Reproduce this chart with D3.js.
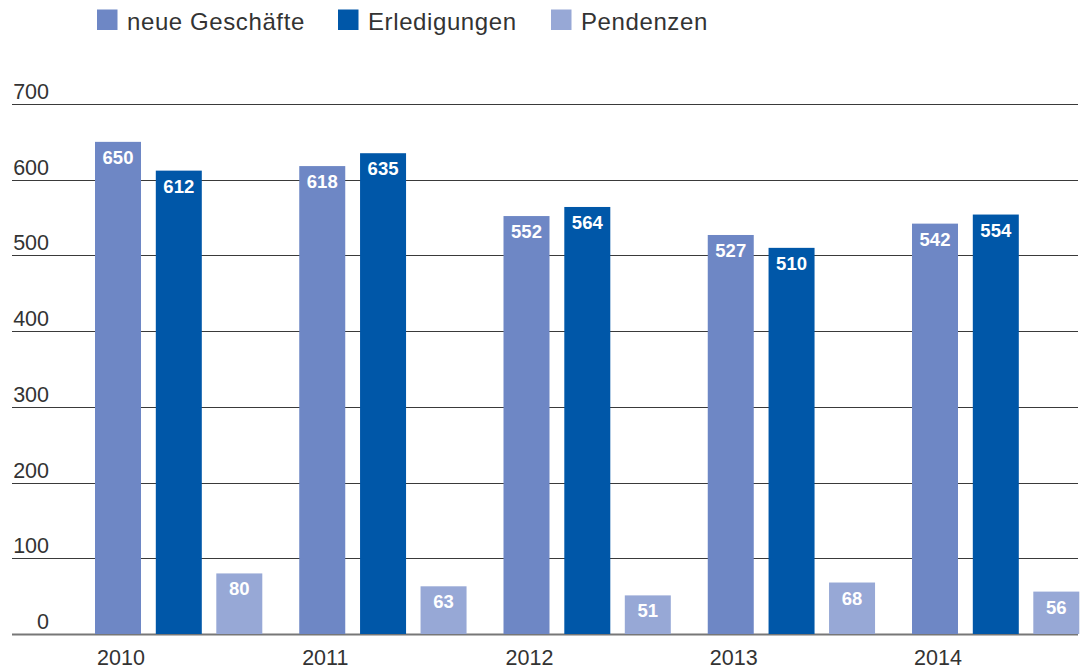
<!DOCTYPE html>
<html><head><meta charset="utf-8">
<script src="https://cdn.jsdelivr.net/npm/d3@7"></script>
<style>
html,body{margin:0;padding:0;background:#fff;}
svg{display:block;font-family:"Liberation Sans",Arial,sans-serif;}
</style></head>
<body>
<svg id="chart" width="1084" height="670"></svg>
<script>
const years = ["2010","2011","2012","2013","2014"];
const seriesNames = ["neue Geschäfte","Erledigungen","Pendenzen"];
const neueGeschaefte = [650,618,552,527,542];
const erledigungen = [612,635,564,510,554];
const pendenzen = [80,63,51,68,56];
const yTicks = [0,100,200,300,400,500,600,700];
const colors = ["#6e87c5","#0057a8","#97a8d6"];

const seriesValues = [neueGeschaefte, erledigungen, pendenzen];
const svg = d3.select("#chart");

const y = d3.scaleLinear().domain([0,700]).range([634,104]);
const x0 = d3.scaleBand().domain(years).range([95, 95 + 204.25*5]).paddingInner(0).paddingOuter(0);
const x1 = d3.scaleOrdinal().domain(seriesNames).range([0, 60.8, 121.3]);
const barW = 46;

// gridlines
const grid = svg.append("g");
grid.selectAll("line").data(yTicks).join("line")
  .attr("x1", 12).attr("x2", 1078)
  .attr("y1", d => Math.round(y(d)) + 0.5).attr("y2", d => Math.round(y(d)) + 0.5)
  .attr("stroke", d => d === 0 ? "#777" : "#3a3a3a")
  .attr("stroke-width", d => d === 0 ? 2 : 1);

// tick labels
grid.selectAll("text").data(yTicks).join("text")
  .attr("x", 49).attr("y", d => y(d) - 5)
  .attr("text-anchor", "end")
  .attr("font-size", 21.5).attr("fill", "#333")
  .text(d => d);

// bars
const data = [];
years.forEach((yr, i) => seriesNames.forEach((s, j) => data.push({yr, s, j, v: seriesValues[j][i]})));

const bars = svg.append("g");
bars.selectAll("rect").data(data).join("rect")
  .attr("x", d => x0(d.yr) + x1(d.s))
  .attr("y", d => y(d.v))
  .attr("width", barW)
  .attr("height", d => y(0) - y(d.v))
  .attr("fill", d => colors[d.j]);

bars.selectAll("text").data(data).join("text")
  .attr("x", d => x0(d.yr) + x1(d.s) + barW/2)
  .attr("y", d => y(d.v) + 22)
  .attr("text-anchor", "middle")
  .attr("font-size", 18.5).attr("font-weight", "bold").attr("fill", "#fff")
  .text(d => d.v);

// year labels
svg.append("g").selectAll("text").data(years).join("text")
  .attr("x", d => x0(d) + 26)
  .attr("y", 665)
  .attr("text-anchor", "middle")
  .attr("font-size", 21.5).attr("fill", "#333")
  .text(d => d);

// legend
const legX = [97, 338, 551];
const leg = svg.append("g");
seriesNames.forEach((s, j) => {
  leg.append("rect").attr("x", legX[j]).attr("y", 9.5).attr("width", 20.5).attr("height", 20.5).attr("fill", colors[j]);
  leg.append("text").attr("x", legX[j] + 30).attr("y", 30).attr("font-size", 24)
    .attr("letter-spacing", 0.6).attr("fill", "#333").text(s);
});
</script>
</body></html>
